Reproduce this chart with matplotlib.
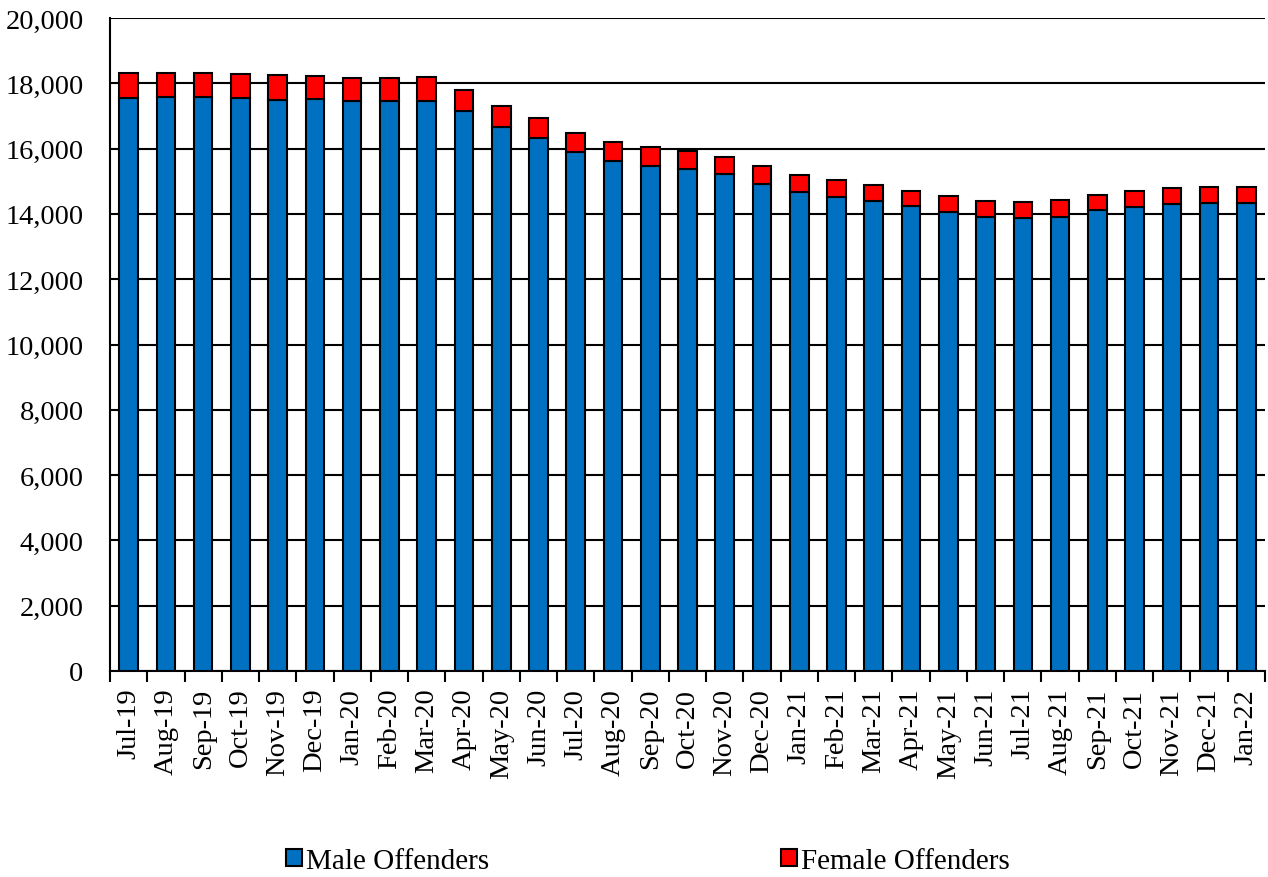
import matplotlib
matplotlib.use("Agg")
import matplotlib.pyplot as plt
from matplotlib.ticker import FuncFormatter, FixedLocator
import numpy as np

months = ["Jul-19", "Aug-19", "Sep-19", "Oct-19", "Nov-19", "Dec-19",
          "Jan-20", "Feb-20", "Mar-20", "Apr-20", "May-20", "Jun-20",
          "Jul-20", "Aug-20", "Sep-20", "Oct-20", "Nov-20", "Dec-20",
          "Jan-21", "Feb-21", "Mar-21", "Apr-21", "May-21", "Jun-21",
          "Jul-21", "Aug-21", "Sep-21", "Oct-21", "Nov-21", "Dec-21",
          "Jan-22"]

male = [17560, 17580, 17570, 17560, 17500, 17530, 17460, 17450, 17460, 17140,
        16650, 16330, 15890, 15620, 15480, 15360, 15210, 14930, 14680, 14520,
        14380, 14230, 14070, 13920, 13880, 13920, 14110, 14200, 14300, 14340,
        14320]

female = [760, 740, 750, 740, 740, 700, 710, 700, 730, 660,
          660, 620, 590, 580, 560, 560, 540, 540, 500, 520,
          500, 470, 470, 460, 470, 520, 480, 490, 490, 490,
          500]

plt.rcParams["font.family"] = ["Liberation Serif", "DejaVu Serif"]

fig = plt.figure(figsize=(12.68, 8.78), dpi=100)
ax = fig.add_axes([110 / 1268, 1 - 672 / 878, 1155 / 1268, 653 / 878])

x = np.arange(len(months))
ax.bar(x, male, width=0.5, color="#0070C0", edgecolor="black",
       linewidth=1.5, label="Male Offenders", zorder=3)
ax.bar(x, female, width=0.5, bottom=male, color="#FF0000", edgecolor="black",
       linewidth=1.5, label="Female Offenders", zorder=3)

ax.set_xlim(-0.5, len(months) - 0.5)
ax.set_ylim(0, 20000)
ax.set_yticks(np.arange(0, 20001, 2000))
ax.yaxis.set_major_formatter(FuncFormatter(lambda v, p: f"{int(v):,}"))
ax.grid(axis="y", color="black", linewidth=1.5, zorder=0)

ax.set_xticks(x)
ax.set_xticklabels(months, rotation=90, fontsize=20.5)
ax.xaxis.set_minor_locator(FixedLocator(np.arange(-0.5, len(months), 1.0)))
ax.tick_params(axis="x", which="major", length=0, pad=12)
ax.tick_params(axis="x", which="minor", length=8, width=1.5, direction="out")
ax.tick_params(axis="y", labelsize=20.5, length=0, pad=19)

for side in ["top", "right"]:
    ax.spines[side].set_visible(False)
for side in ["left", "bottom"]:
    ax.spines[side].set_linewidth(1.5)

handles, labels = ax.get_legend_handles_labels()
fig.legend(handles, labels, loc="center", bbox_to_anchor=(648 / 1268, 1 - 862 / 878),
           ncol=2, frameon=False, fontsize=21, handlelength=0.55, handleheight=0.55,
           handletextpad=0.15, columnspacing=10.0)

fig.savefig("out.png", dpi=100)
